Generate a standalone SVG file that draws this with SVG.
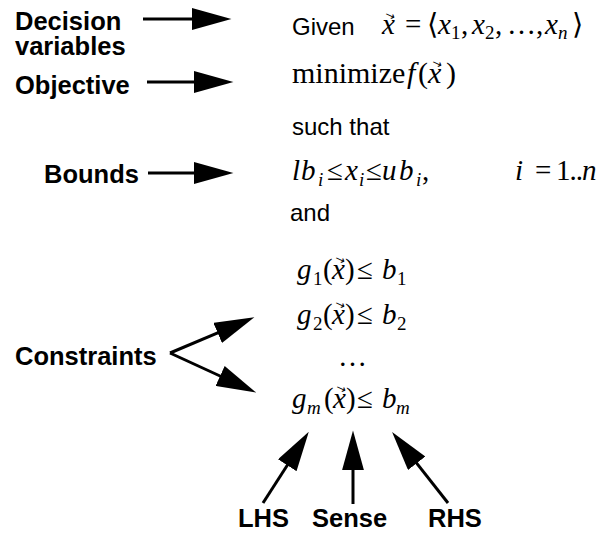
<svg xmlns="http://www.w3.org/2000/svg" width="597" height="533" viewBox="0 0 597 533">
<style>
.lbl{font-family:"Liberation Sans",Arial,sans-serif;font-weight:bold;font-size:25.5px;fill:#000}
.sans{font-family:"Liberation Sans",Arial,sans-serif;font-size:24px;fill:#000}
.m{font-family:"Liberation Serif","DejaVu Serif",serif;font-size:29px;fill:#000}
.it{font-style:italic}
.sub{font-size:19px}
.acc{font-family:"DejaVu Sans","Liberation Sans",sans-serif;font-size:12px;fill:#000}
.conn{stroke:#000;stroke-width:3;fill:none;marker-end:url(#ah)}
</style>
<defs>
<marker id="ah" markerUnits="userSpaceOnUse" markerWidth="40" markerHeight="22" refX="8" refY="10.5" orient="auto" viewBox="0 0 38 21">
<path d="M0,0 L38,10.5 L0,21 z" fill="#000"/>
</marker>
</defs>
<rect width="597" height="533" fill="#fff"/>

<g id="connectors">
<line class="conn" x1="143" y1="19" x2="200" y2="19"/>
<line class="conn" x1="147" y1="82" x2="202" y2="82"/>
<line class="conn" x1="148" y1="173" x2="202" y2="173"/>
<line class="conn" x1="170" y1="353" x2="225.4" y2="329.6"/>
<line class="conn" x1="170" y1="353" x2="227.7" y2="379.5"/>
<line class="conn" x1="263" y1="503" x2="291.8" y2="458.2"/>
<line class="conn" x1="353" y1="504" x2="353" y2="462"/>
<line class="conn" x1="448" y1="503" x2="411.5" y2="456.6"/>
</g>

<g id="decision-variables"><text class="lbl" x="15" y="30">Decision</text><text class="lbl" x="15" y="55">variables</text></g>
<g id="objective"><text class="lbl" x="15" y="94">Objective</text></g>
<g id="bounds"><text class="lbl" x="44" y="183">Bounds</text></g>
<g id="constraints"><text class="lbl" x="15" y="365">Constraints</text></g>
<g id="lhs"><text class="lbl" x="238" y="527">LHS</text></g>
<g id="sense"><text class="lbl" x="312" y="527">Sense</text></g>
<g id="rhs"><text class="lbl" x="428" y="527">RHS</text></g>

<g id="given">
<text class="sans" x="292" y="35">Given</text>
<text class="m" y="34"><tspan class="it" x="382">x</tspan><tspan x="405">=</tspan><tspan x="427">⟨</tspan><tspan class="it" x="438">x</tspan><tspan class="sub" x="451" dy="5">1</tspan><tspan x="461" dy="-5">,</tspan><tspan class="it" x="472">x</tspan><tspan class="sub" x="485" dy="5">2</tspan><tspan x="495" dy="-5">,</tspan><tspan x="507">…</tspan><tspan x="536">,</tspan><tspan class="it" x="545">x</tspan><tspan class="sub it" x="558" dy="5">n</tspan><tspan x="572" dy="-5">⟩</tspan></text>
<text class="acc" x="0" y="0" transform="translate(384,17) rotate(25)">→</text>
</g>
<g id="minimize">
<text class="m" y="83" style="font-size:30px"><tspan x="292">minimize</tspan><tspan class="it" x="407">f</tspan><tspan x="418">(</tspan><tspan class="it" x="428">x</tspan><tspan x="446">)</tspan></text>
<text class="acc" x="0" y="0" transform="translate(431,65) rotate(25)">→</text>
</g>
<g id="such-that"><text class="sans" x="292" y="135">such that</text></g>
<g id="bound-expr">
<text class="m" y="180"><tspan class="it" x="292">l</tspan><tspan class="it" x="301">b</tspan><tspan class="sub it" x="318" dy="6">i</tspan><tspan x="327" dy="-6">≤</tspan><tspan class="it" x="345">x</tspan><tspan class="sub it" x="359" dy="6">i</tspan><tspan x="366" dy="-6">≤</tspan><tspan class="it" x="382">u</tspan><tspan class="it" x="399">b</tspan><tspan class="sub it" x="416" dy="6">i</tspan><tspan x="422" dy="-6">,</tspan><tspan class="it" x="515">i</tspan><tspan x="535">=</tspan><tspan x="556" style="letter-spacing:-1px">1..</tspan><tspan class="it" x="582">n</tspan></text>
</g>
<g id="and"><text class="sans" x="290" y="221">and</text></g>
<g id="constraint-1">
<text class="m" y="279"><tspan class="it" x="297">g</tspan><tspan class="sub" x="313" dy="6">1</tspan><tspan x="323" dy="-6">(</tspan><tspan class="it" x="332">x</tspan><tspan x="345">)</tspan><tspan x="357">≤</tspan><tspan class="it" x="382">b</tspan><tspan class="sub" x="397" dy="6">1</tspan></text>
<text class="acc" x="0" y="0" transform="translate(334,261) rotate(25)">→</text>
</g>
<g id="constraint-2">
<text class="m" y="324"><tspan class="it" x="297">g</tspan><tspan class="sub" x="313" dy="6">2</tspan><tspan x="323" dy="-6">(</tspan><tspan class="it" x="332">x</tspan><tspan x="345">)</tspan><tspan x="357">≤</tspan><tspan class="it" x="382">b</tspan><tspan class="sub" x="397" dy="6">2</tspan></text>
<text class="acc" x="0" y="0" transform="translate(334,306) rotate(25)">→</text>
</g>
<g id="ellipsis"><text class="m" x="338" y="366">…</text></g>
<g id="constraint-m">
<text class="m" y="408"><tspan class="it" x="292">g</tspan><tspan class="sub it" x="307" dy="6">m</tspan><tspan x="324" dy="-6">(</tspan><tspan class="it" x="333">x</tspan><tspan x="346">)</tspan><tspan x="357">≤</tspan><tspan class="it" x="382">b</tspan><tspan class="sub it" x="396" dy="6">m</tspan></text>
<text class="acc" x="0" y="0" transform="translate(335,390) rotate(25)">→</text>
</g>
</svg>
